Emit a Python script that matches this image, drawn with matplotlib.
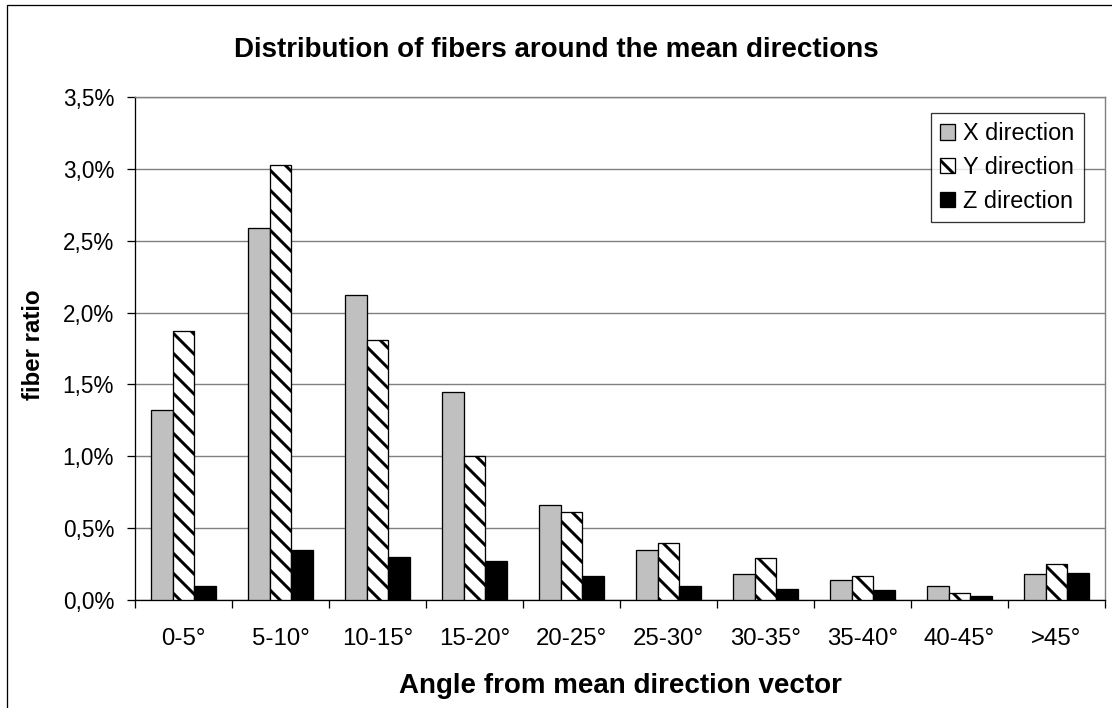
import numpy as np
import matplotlib.pyplot as plt
from matplotlib.patches import Rectangle
from matplotlib.ticker import FuncFormatter

DPI = 120


def pt(px):  # pixel size -> points at this dpi
    return px * 72 / DPI


plt.rcParams['font.family'] = ['Liberation Sans', 'DejaVu Sans']
plt.rcParams['hatch.linewidth'] = pt(3.0)

categories = ['0-5°', '5-10°', '10-15°', '15-20°', '20-25°',
              '25-30°', '30-35°', '35-40°', '40-45°', '>45°']
x_dir = [1.32, 2.59, 2.12, 1.45, 0.66, 0.35, 0.18, 0.14, 0.10, 0.18]
y_dir = [1.87, 3.03, 1.81, 1.00, 0.61, 0.40, 0.29, 0.17, 0.05, 0.25]
z_dir = [0.10, 0.35, 0.30, 0.27, 0.17, 0.10, 0.08, 0.07, 0.03, 0.19]

W, H = 1112, 708
fig = plt.figure(figsize=(W / DPI, H / DPI), dpi=DPI)

# outer chart border (cut off at right and bottom like the original)
fig.patches.append(Rectangle((7 / W, -0.1), 1.2, 1 - 5 / H + 0.1,
                             transform=fig.transFigure, fill=False,
                             edgecolor='black', linewidth=pt(1.3)))

ax = fig.add_axes([135 / W, 1 - 600 / H, (1105 - 135) / W, (600 - 97) / H])

pos = np.arange(len(categories))
bw = 0.222
lw = pt(1.3)
ax.bar(pos - bw, x_dir, bw, color='#c0c0c0', edgecolor='black', linewidth=lw,
       label='X direction', zorder=3)
ax.bar(pos, y_dir, bw, color='white', edgecolor='black', linewidth=lw,
       hatch='\\\\', label='Y direction', zorder=3)
ax.bar(pos + bw, z_dir, bw, color='black', edgecolor='black', linewidth=lw,
       label='Z direction', zorder=3)

ax.set_xlim(-0.5, len(categories) - 0.5)
ax.set_ylim(0, 3.5)
ax.set_yticks(np.arange(0, 3.51, 0.5))
ax.yaxis.set_major_formatter(FuncFormatter(lambda v, p: f'{v:.1f}%'.replace('.', ',')))
ax.yaxis.grid(True, color='#808080', linewidth=pt(1.4), zorder=0)

ax.set_xticks(pos)
ax.set_xticklabels(categories)
ax.set_xticks(np.arange(-0.5, len(categories)), minor=True)
ax.tick_params(axis='x', which='major', length=0, pad=pt(28), labelsize=pt(24))
ax.tick_params(axis='x', which='minor', length=pt(8), width=pt(1.3), direction='out')
ax.tick_params(axis='y', length=pt(8), width=pt(1.3), direction='out', pad=pt(13),
               labelsize=pt(22.5))

for s in ['top', 'right']:
    ax.spines[s].set_color('#808080')
    ax.spines[s].set_linewidth(pt(1.4))
ax.spines['left'].set_linewidth(pt(1.3))
ax.spines['bottom'].set_linewidth(pt(1.3))

fig.text(0.5, 1 - 57 / H, 'Distribution of fibers around the mean directions',
         ha='center', va='baseline', fontsize=pt(27.8), fontweight='bold')
fig.text(620 / W, 1 - 693 / H, 'Angle from mean direction vector',
         ha='center', va='baseline', fontsize=pt(27.8), fontweight='bold')
fig.text(33 / W, 1 - 345 / H, 'fiber ratio', ha='center', va='center',
         rotation=90, fontsize=pt(24), fontweight='bold')

leg = ax.legend(loc='upper right', bbox_to_anchor=(1084 / W, 1 - 113 / H),
                bbox_transform=fig.transFigure, fontsize=pt(23.5), frameon=True,
                fancybox=False, edgecolor='black', handlelength=0.64,
                handleheight=0.64, handletextpad=0.35, labelspacing=0.45,
                borderpad=0.4, borderaxespad=0)
leg.get_frame().set_linewidth(pt(1.3))

fig.savefig('out.png', dpi=DPI)
